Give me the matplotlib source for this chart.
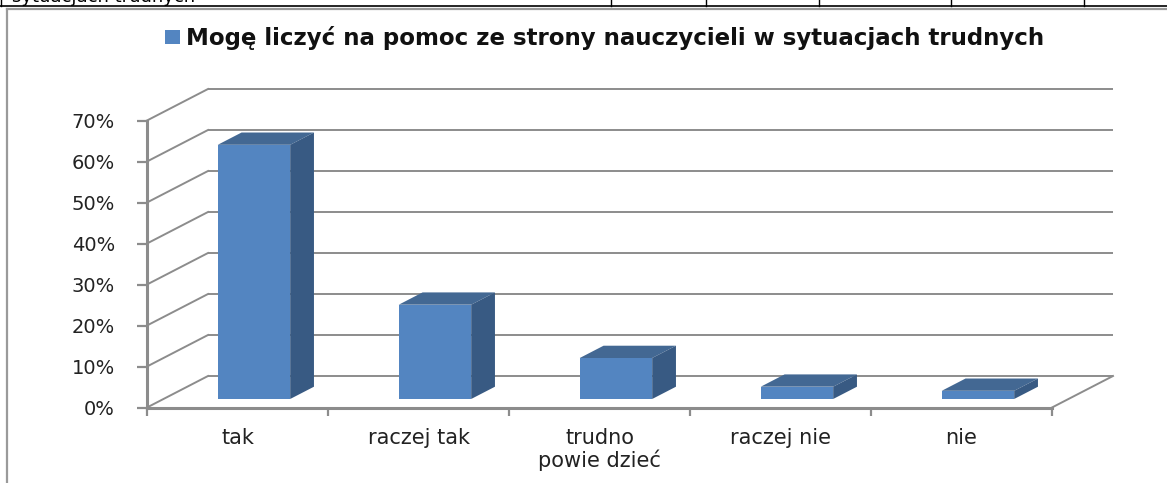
import matplotlib
matplotlib.use("Agg")
import matplotlib.pyplot as plt
from matplotlib.patches import Polygon
from matplotlib.lines import Line2D

# data
categories = ["tak", "raczej tak", "trudno\npowie dzieć", "raczej nie", "nie"]
values = [0.62, 0.23, 0.10, 0.03, 0.02]
series_name = "Mogę liczyć na pomoc ze strony nauczycieli w sytuacjach trudnych"
y_ticks = [0.0, 0.1, 0.2, 0.3, 0.4, 0.5, 0.6, 0.7]
y_labels = ["0%", "10%", "20%", "30%", "40%", "50%", "60%", "70%"]

W, H = 1167, 483
front_c = "#5385c1"
side_c = "#385a83"
top_c = "#436893"
grid_c = "#8c8c8c"

fig = plt.figure(figsize=(W / 100, H / 100), dpi=100)
fig.patch.set_facecolor("white")

def fx(p):
    return p / W

def fy(p):
    return 1 - p / H

# front plane of the 3d box
left, right, top, bottom = 147, 1052, 120.5, 407.5
ax = fig.add_axes([fx(left), fy(bottom), fx(right - left), (bottom - top) / H])
ax.set_xlim(0, len(categories))
ax.set_ylim(0, 0.7)
ax.patch.set_alpha(0)

# depth offset of the back wall in data units
kx = 61 / ((right - left) / len(categories))
ky = 31.5 / ((bottom - top) / 0.7)

# walls: back gridlines + left wall diagonals
for v in y_ticks:
    ax.plot([kx, len(categories) + kx], [v + ky, v + ky], color=grid_c, lw=1.4,
            clip_on=False, zorder=1, solid_capstyle="butt")
    ax.plot([0, kx], [v, v + ky], color=grid_c, lw=1.4, clip_on=False, zorder=1)
ax.plot([len(categories), len(categories) + kx], [0, ky], color=grid_c, lw=1.4,
        clip_on=False, zorder=1)

# bars
f, dep, bw = 0.27, 0.39, 0.4
xs = [i + 0.5 for i in range(len(categories))]
ax.bar([x + f * kx for x in xs], values, width=bw, bottom=f * ky, color=front_c,
       zorder=3, clip_on=False, label=series_name)
for x, v in zip(xs, values):
    x0 = x - bw / 2 + f * kx
    x1 = x + bw / 2 + f * kx
    y0 = f * ky
    y1 = v + f * ky
    ddx, ddy = dep * kx, dep * ky
    ax.add_patch(Polygon([(x0, y1), (x1, y1), (x1 + ddx, y1 + ddy), (x0 + ddx, y1 + ddy)],
                         closed=True, facecolor=top_c, edgecolor="none", zorder=3, clip_on=False))
    ax.add_patch(Polygon([(x1, y0), (x1 + ddx, y0 + ddy), (x1 + ddx, y1 + ddy), (x1, y1)],
                         closed=True, facecolor=side_c, edgecolor="none", zorder=3, clip_on=False))

# front axes
for s in ["top", "right"]:
    ax.spines[s].set_visible(False)
for s in ["left", "bottom"]:
    ax.spines[s].set_color(grid_c)
    ax.spines[s].set_linewidth(2.2)
    ax.spines[s].set_zorder(4)

ax.set_yticks(y_ticks)
ax.set_yticklabels(y_labels)
ax.tick_params(axis="y", length=7, width=1.6, color=grid_c, pad=16,
               labelsize=14, labelcolor="#222222")
ax.set_xticks(range(len(categories) + 1))
ax.set_xticklabels([])
ax.tick_params(axis="x", which="major", length=6, width=1.6, color=grid_c)
ax.set_xticks(xs, minor=True)
ax.set_xticklabels(categories, minor=True)
ax.tick_params(axis="x", which="minor", length=0, pad=15, labelsize=15,
               labelcolor="#222222")
for t in ax.get_xticklabels(minor=True):
    t.set_linespacing(1.05)

# legend
leg = fig.legend(loc="center", bbox_to_anchor=(fx(605), fy(38)), frameon=False,
                 prop={"weight": "bold", "size": 16.5}, handlelength=0.62,
                 handleheight=0.62, handletextpad=0.3)
for t in leg.get_texts():
    t.set_color("#111111")

# chart frame and the table row above it
fig.add_artist(Line2D([0, 1], [fy(6), fy(6)], color="black", lw=1.2))
fig.add_artist(Line2D([fx(7), 1], [fy(8.5), fy(8.5)], color="#9a9a9a", lw=1.6))
fig.add_artist(Line2D([fx(7), fx(7)], [fy(8.5), 0], color="#9a9a9a", lw=1.6))
for xp in [1, 610.5, 706, 819, 951, 1084]:
    fig.add_artist(Line2D([fx(xp), fx(xp)], [1, fy(6)], color="black", lw=1.0))
fig.text(fx(12), fy(2.5), "sytuacjach trudnych", fontsize=13, va="baseline", ha="left",
         color="black")

fig.savefig("out.png", dpi=100, facecolor="white")
